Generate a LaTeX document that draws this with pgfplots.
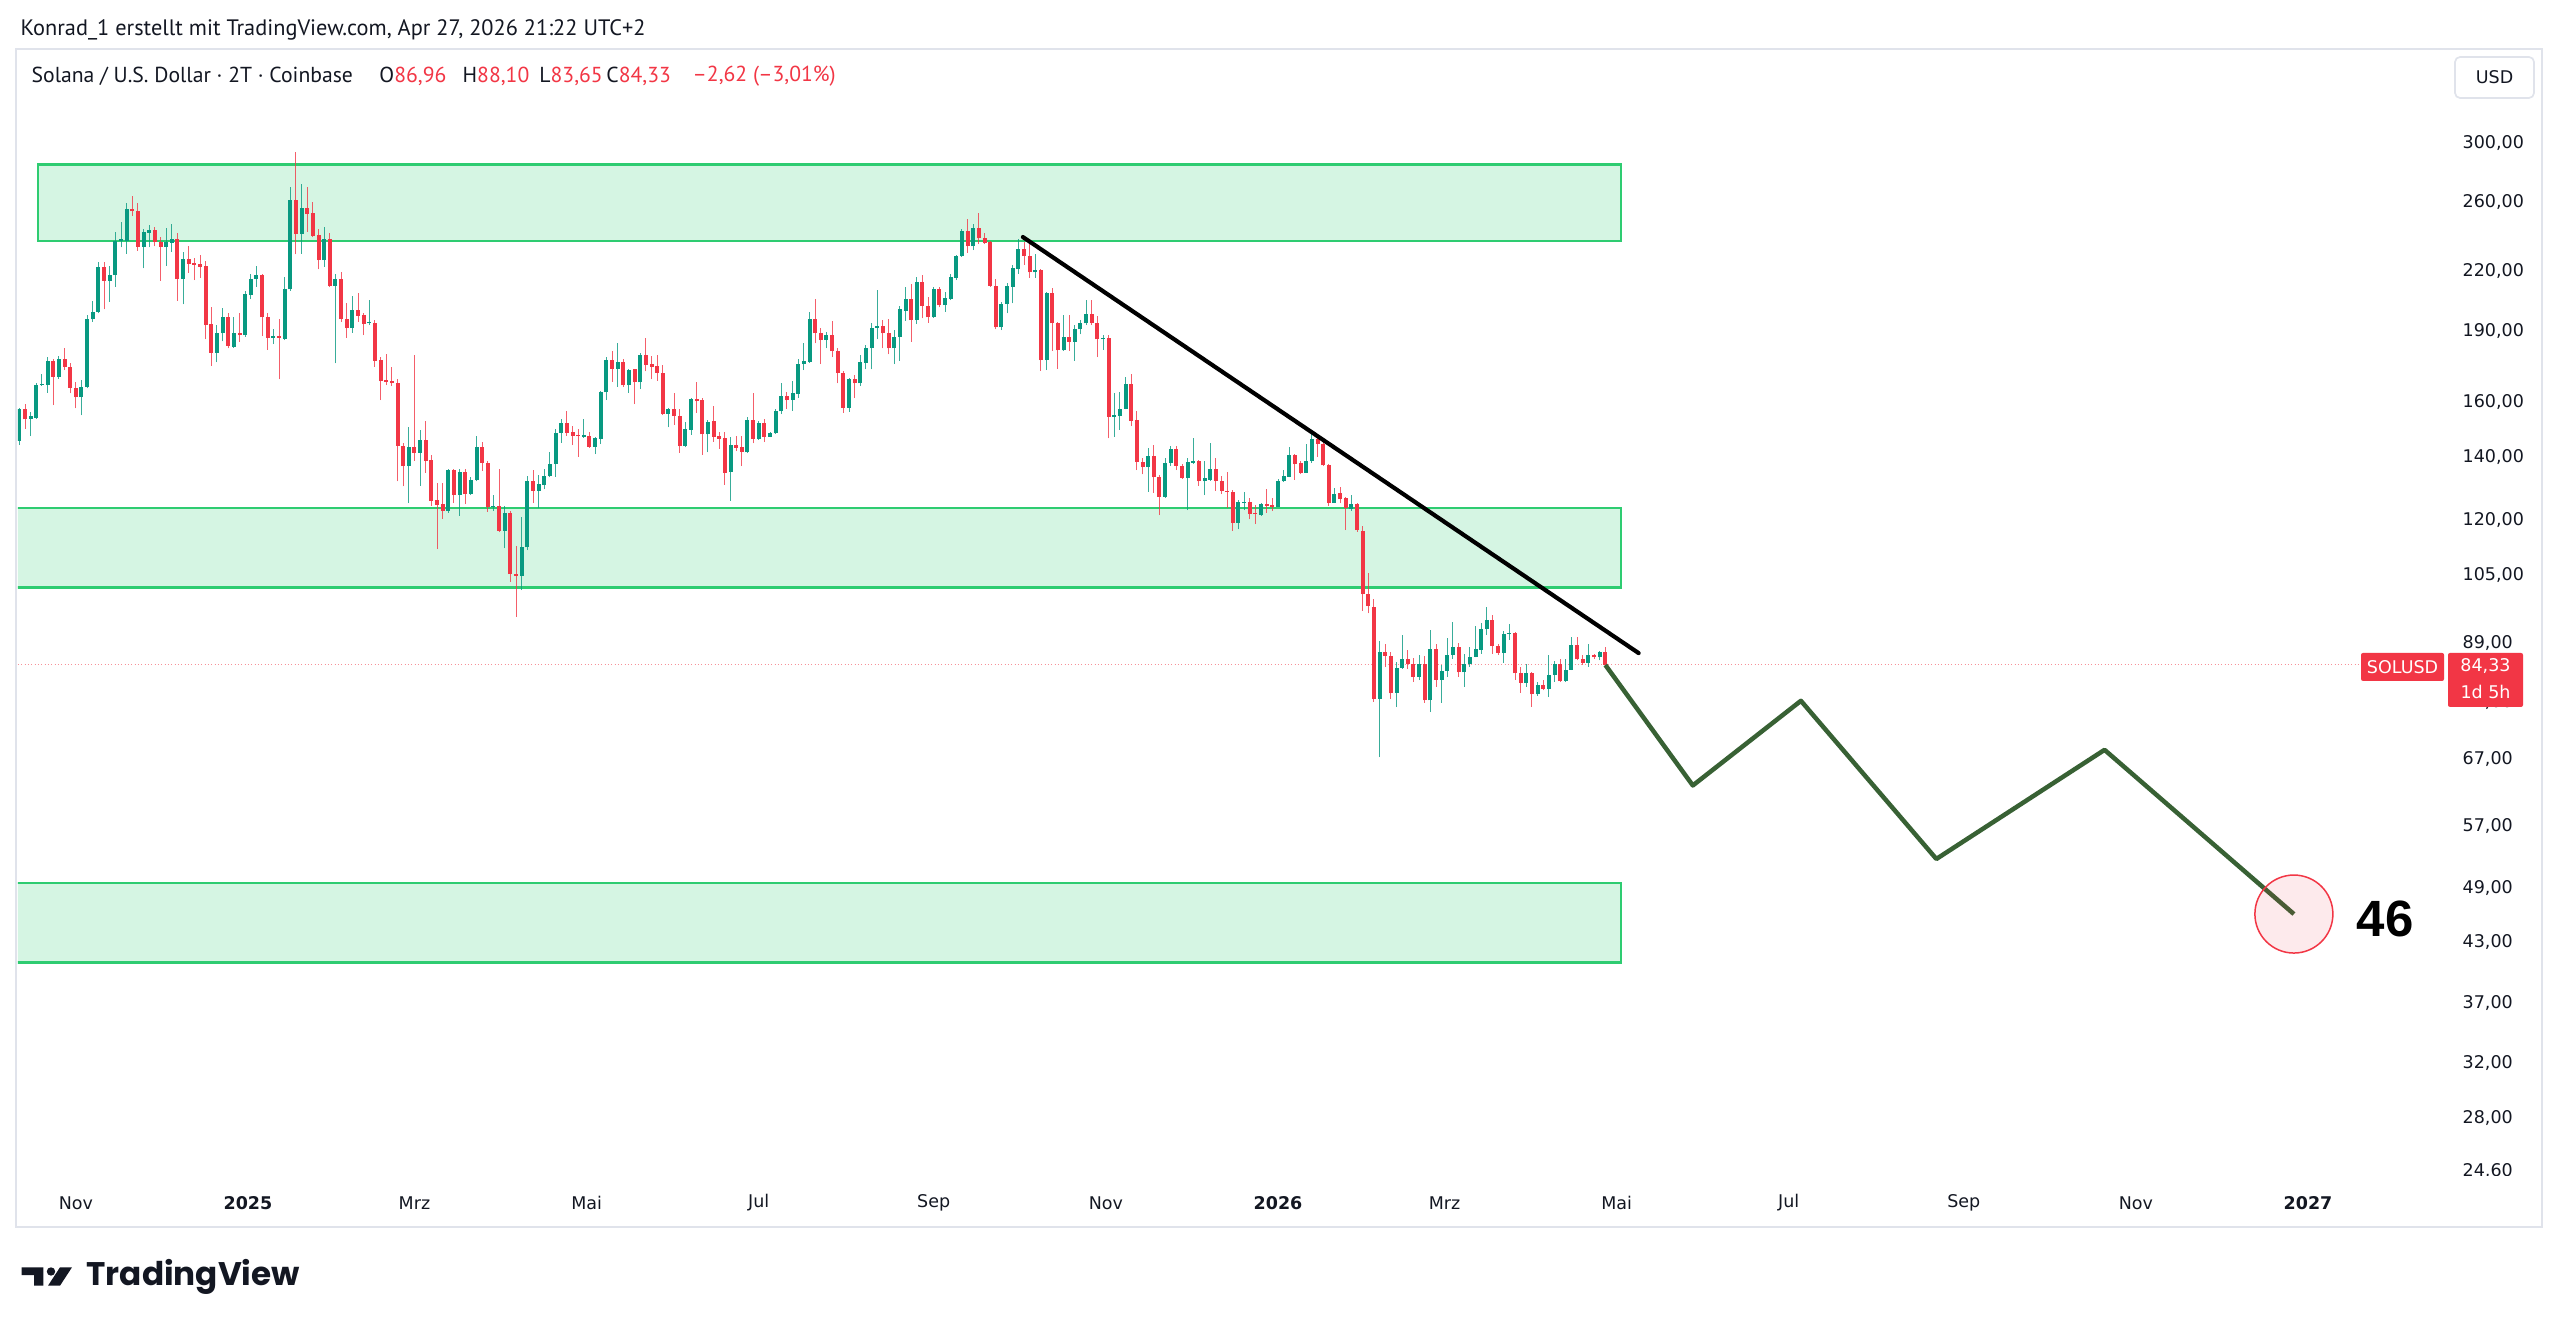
\documentclass[border=0pt]{standalone}
\usepackage{pgfplots}
\pgfplotsset{compat=1.18}
\usepackage{pgfplotstable}
\usetikzlibrary{calc,backgrounds}
\usepackage{fontspec}
\setmainfont{PT Sans}
\newfontfamily\numfont{DejaVu Sans}
\newfontfamily\bignum{Liberation Sans}
\newfontfamily\logofont{Poppins}

\definecolor{tvgreen}{RGB}{8,153,129}
\definecolor{tvred}{RGB}{242,54,69}
\definecolor{tvtext}{RGB}{19,23,34}
\definecolor{zoneedge}{RGB}{46,204,113}
\definecolor{zonefill}{RGB}{213,245,227}
\definecolor{pathgreen}{RGB}{56,97,52}
\definecolor{paneedge}{RGB}{224,227,235}

% SOL/USD, 2-day candles; d = days since 2025-01-01
\pgfplotstableread{
d o h l c
-83 138.2 147.0 137.9 145.8
-81 145.5 157.7 144.0 157.1
-79 157.1 159.0 149.9 153.3
-77 153.5 156.1 147.2 154.5
-75 154.0 167.6 153.6 166.6
-73 166.6 171.0 166.3 166.9
-71 166.6 178.4 163.5 176.8
-69 176.8 177.7 158.7 170.0
-67 170.0 178.8 169.3 177.7
-65 177.7 182.6 172.8 174.2
-63 174.2 175.7 163.3 165.5
-61 165.5 168.0 157.5 161.7
-59 161.7 168.7 154.8 166.0
-57 165.8 197.6 165.3 195.6
-55 195.6 204.3 194.4 199.2
-53 199.2 224.6 198.4 222.1
-51 222.1 224.6 200.3 214.7
-49 214.7 222.6 204.1 217.9
-47 217.7 241.8 211.6 236.5
-45 236.7 248.0 232.9 237.5
-43 236.5 259.7 229.5 255.7
-41 255.7 264.1 251.4 254.5
-39 254.5 259.3 231.0 233.2
-37 233.2 243.4 221.3 241.6
-35 241.4 246.0 232.9 242.8
-33 242.8 245.0 233.6 236.1
-31 236.1 239.0 214.7 233.2
-29 233.2 244.3 222.8 235.8
-27 235.5 246.4 230.4 237.7
-25 237.7 241.1 204.6 215.7
-23 215.7 230.1 202.8 226.7
-21 226.7 234.0 219.0 223.7
-19 224.1 227.3 215.1 223.3
-17 223.7 228.6 216.5 222.2
-15 222.6 225.5 186.2 192.8
-13 193.3 201.6 174.6 180.4
-11 180.4 192.8 176.1 189.2
-9 189.0 201.1 185.4 196.7
-7 196.7 198.7 182.2 183.3
-5 182.9 196.7 182.5 189.0
-3 189.2 198.4 185.1 188.2
-1 188.2 209.6 187.4 208.0
1 207.4 218.6 205.4 215.8
3 215.8 222.6 211.6 217.9
5 217.9 218.6 187.7 196.5
7 196.5 198.4 181.7 186.9
9 186.9 190.8 184.1 187.7
11 187.7 195.5 169.0 186.9
13 186.6 216.8 185.9 210.4
15 210.3 270.0 209.6 261.4
17 261.4 294.0 229.0 240.6
19 240.6 271.7 229.5 256.5
21 256.5 270.0 242.0 252.6
23 253.1 260.3 238.7 239.6
25 240.0 243.4 220.8 225.9
27 225.9 244.6 222.2 237.7
29 237.7 241.1 211.5 212.1
31 212.1 218.6 175.7 215.8
33 215.8 219.5 194.4 195.5
35 195.5 203.6 187.1 191.4
37 191.4 206.9 189.2 199.9
39 199.9 208.6 194.4 197.2
41 197.6 198.4 188.2 193.3
43 193.7 204.9 192.8 194.4
45 193.9 195.2 174.2 176.8
47 177.1 178.4 160.7 168.3
49 168.7 179.9 166.6 168.0
51 168.4 174.2 166.2 167.3
53 167.6 169.3 131.8 143.7
55 143.8 144.6 130.2 136.8
57 136.8 150.5 125.0 143.2
59 143.2 179.5 138.6 141.4
61 141.4 149.4 130.5 145.8
63 145.8 152.6 134.6 138.6
65 138.8 140.6 124.2 125.8
67 126.0 131.2 111.8 124.5
69 124.8 131.2 120.4 122.7
71 122.7 136.0 122.2 135.5
73 135.5 136.0 125.0 127.5
75 127.5 136.0 121.2 134.9
77 134.9 136.0 124.7 127.8
79 127.8 133.3 127.5 132.3
81 132.3 147.2 131.8 143.2
83 143.2 145.2 135.3 137.9
85 137.9 138.6 122.4 124.0
87 124.0 127.5 122.6 124.2
89 124.2 135.7 116.5 116.9
91 116.9 124.2 112.0 122.1
93 122.1 122.6 103.3 105.2
95 105.3 112.6 94.8 104.7
97 104.7 120.9 101.2 112.3
99 112.3 133.5 111.5 131.8
101 131.8 135.5 125.0 128.8
103 128.8 133.9 123.5 131.0
105 130.7 135.7 129.3 133.5
107 133.5 141.7 133.1 137.5
109 137.5 149.9 133.3 148.4
111 148.4 153.6 144.8 152.1
113 152.1 156.5 147.3 148.4
115 148.8 150.8 144.0 147.3
117 147.5 149.9 140.0 147.2
119 147.0 153.6 146.6 147.5
121 147.3 148.8 143.0 143.4
123 143.4 147.0 140.9 146.5
125 146.3 164.2 144.3 163.7
127 163.7 178.4 160.7 177.3
129 177.3 181.1 168.0 173.5
131 173.5 184.4 166.0 176.2
133 176.2 177.7 166.0 166.5
135 166.5 173.2 163.5 172.8
137 173.1 173.5 159.1 167.8
139 167.8 180.4 165.0 179.1
141 179.1 187.1 172.3 175.0
143 175.4 178.8 169.0 174.2
145 174.7 179.2 168.4 171.7
147 171.8 175.0 154.9 155.4
149 155.4 157.6 150.3 157.3
151 157.2 163.3 151.3 154.5
153 154.6 157.4 141.4 143.6
155 143.6 152.4 143.2 149.9
157 149.4 161.3 147.6 160.9
159 160.9 168.0 155.8 160.3
161 160.7 161.3 140.6 147.8
163 147.8 153.0 141.5 152.5
165 152.6 158.4 145.1 147.0
167 147.2 148.8 142.7 146.3
169 146.5 148.8 130.8 134.6
171 134.9 146.7 125.8 144.0
173 144.0 147.3 141.9 143.1
175 143.2 147.3 136.8 141.6
177 141.5 154.1 141.2 152.9
179 152.9 163.3 144.6 146.3
181 146.3 152.7 145.8 151.9
183 151.9 153.3 145.0 147.0
185 147.0 148.8 146.7 148.4
187 148.2 157.4 148.0 156.4
189 156.3 167.6 155.3 162.2
191 162.2 163.7 157.3 160.7
193 160.7 168.4 156.5 163.3
195 163.0 177.7 161.4 175.4
197 175.4 184.4 172.8 176.5
199 176.4 198.9 176.0 195.5
201 195.5 205.7 184.4 189.0
203 189.2 191.4 175.4 185.9
205 185.9 189.7 182.2 188.2
207 188.2 194.7 178.4 181.0
209 181.0 182.2 167.3 171.7
211 171.7 172.4 155.8 157.8
213 157.8 169.6 156.1 169.1
215 169.1 170.7 161.4 167.3
217 167.3 179.2 166.2 176.1
219 175.9 183.6 173.1 182.2
221 182.2 193.6 173.2 191.4
223 191.4 210.0 186.2 192.4
225 192.4 195.2 182.2 189.0
227 189.0 195.7 179.6 182.2
229 182.2 190.5 175.4 187.4
231 187.4 202.0 176.8 200.4
233 199.7 211.6 194.9 205.4
235 205.4 213.0 185.1 195.2
237 195.2 216.6 193.3 213.9
239 213.9 217.7 196.0 202.0
241 202.0 206.6 193.9 196.5
243 196.5 211.6 196.3 210.3
245 210.3 211.6 201.3 202.4
247 202.4 209.2 199.2 206.0
249 205.7 218.6 204.9 216.6
251 216.4 228.6 215.1 228.2
253 228.0 243.9 227.6 242.4
255 242.4 249.5 229.9 233.6
257 233.6 246.4 231.4 244.3
259 244.3 253.1 234.8 238.1
261 238.1 241.1 234.8 235.2
263 236.1 236.8 211.6 212.1
265 212.1 215.6 190.8 191.8
267 191.8 204.1 190.5 202.9
269 202.9 213.6 198.4 212.0
271 211.6 223.2 203.3 221.3
273 221.0 237.5 218.6 232.3
275 232.3 236.1 223.2 228.0
277 228.2 237.1 216.5 219.2
279 219.2 229.2 216.5 220.4
281 220.4 221.0 172.5 177.1
283 177.1 209.2 172.8 208.3
285 208.3 211.2 181.1 193.6
287 193.6 194.4 173.5 181.4
289 181.4 197.6 181.1 187.4
291 187.4 197.6 181.1 185.1
293 185.1 192.8 176.8 190.8
295 190.8 195.2 188.6 193.6
297 193.6 204.9 192.8 197.9
299 197.9 204.9 192.8 193.6
301 193.6 197.1 178.4 186.3
303 186.3 188.2 181.7 186.9
305 186.9 188.2 146.4 154.2
307 154.2 163.3 147.0 154.9
309 154.5 164.0 149.4 157.4
311 157.4 170.0 157.1 166.9
313 166.9 171.4 150.8 152.7
315 153.0 156.5 135.5 138.2
317 138.2 139.4 134.1 136.5
319 136.5 142.9 128.6 140.2
321 140.2 144.0 128.3 133.1
323 133.1 133.9 121.4 127.0
325 127.0 139.4 126.6 137.9
327 137.9 143.8 136.8 142.5
329 142.5 143.8 135.5 136.9
331 136.8 137.5 132.6 132.9
333 132.9 139.7 122.9 138.2
335 138.0 146.4 137.5 138.6
337 138.6 139.0 130.5 131.8
339 131.8 138.6 127.5 132.8
341 132.3 144.6 132.1 135.7
343 135.7 139.7 128.9 131.8
345 131.8 133.6 127.8 128.9
347 128.9 134.9 123.5 128.7
349 128.6 129.1 116.9 119.2
351 119.2 126.0 117.3 125.3
353 125.0 128.4 122.9 125.3
355 125.3 126.5 120.2 121.7
357 122.1 124.5 118.8 121.7
359 121.4 125.0 121.2 124.7
361 124.7 129.4 122.1 124.3
363 124.5 126.7 122.7 123.8
365 124.0 132.5 123.8 131.8
367 131.8 135.5 131.6 133.6
369 133.3 143.2 133.1 140.6
371 140.6 140.9 132.3 137.5
373 137.7 138.5 134.2 134.7
375 134.7 144.4 134.5 138.6
377 138.5 148.6 137.9 146.1
379 146.1 146.8 140.0 144.4
381 144.4 145.2 136.8 137.1
383 137.1 137.5 124.2 125.2
385 125.2 129.6 125.0 127.8
387 128.0 129.9 125.0 126.2
389 126.5 126.8 117.1 123.5
391 123.2 127.5 122.7 124.7
393 124.7 125.0 116.6 117.1
395 116.9 118.3 96.2 100.2
397 100.2 105.5 95.6 97.3
399 97.1 98.9 77.1 77.7
401 77.7 89.4 67.4 87.0
403 87.0 88.7 83.9 86.2
405 86.2 87.0 77.7 78.7
407 78.8 85.0 76.1 83.8
409 83.8 90.8 83.6 85.6
411 85.6 87.4 83.6 84.6
413 84.6 85.8 81.0 81.9
415 81.9 86.3 81.3 84.6
417 84.6 86.1 76.9 77.4
419 77.4 91.8 75.2 87.6
421 87.6 88.7 80.0 81.4
423 81.4 84.3 76.9 83.2
425 83.2 90.0 81.9 86.5
427 86.5 93.6 85.6 88.2
429 88.2 89.0 81.9 82.8
431 82.8 86.7 80.0 84.5
433 84.5 88.2 84.0 86.0
435 86.0 92.7 85.9 87.6
437 87.5 93.4 86.7 92.0
439 92.0 97.1 90.8 94.0
441 94.0 95.2 86.7 88.3
443 88.3 88.7 86.5 86.9
445 86.9 91.6 84.8 90.9
447 90.9 93.1 89.7 91.2
449 91.2 91.4 81.4 82.6
451 82.6 84.0 78.8 80.8
453 80.8 84.6 80.0 82.6
455 82.6 83.0 76.2 78.5
457 78.5 80.9 78.3 80.4
459 80.4 81.3 79.3 79.6
461 79.6 86.3 78.0 82.3
463 82.3 85.2 81.0 84.5
465 84.5 85.6 81.0 81.1
467 81.1 85.6 80.9 83.4
469 83.4 90.2 83.3 88.6
471 88.6 90.3 85.3 85.5
473 85.6 86.5 84.3 84.8
475 84.8 88.8 84.0 86.5
477 86.5 86.7 85.6 85.9
479 85.9 87.2 85.3 86.96
481 86.96 88.10 83.65 84.33
}\candles

% price zones: x from/to (days), lower and upper price
\pgfplotstableread{
d p
-74.4 236.7
486.5 236.7
486.5 285.1
-74.4 285.1
}\zoneA
\pgfplotstableread{
d p
-100 101.8
486.5 101.8
486.5 123.6
-100 123.6
}\zoneB
\pgfplotstableread{
d p
-100 40.9
486.5 40.9
486.5 49.6
-100 49.6
}\zoneC
\pgfplotstableread{
d p
274.6 238.9
492.8 86.8
}\trend
\pgfplotstableread{
d p
481 84.33
512 62.9
550.3 77.3
598.3 52.6
657.9 68.6
725 46
}\projection
\pgfplotstableread{
d p
-81.5 84.33
760 84.33
}\lastline
\pgfplotstableread{
d p
725 46
}\target

\begin{document}
\begin{tikzpicture}[x=0.3pt,y=0.3pt]

% price axis is logarithmic: y holds ln(price)
\begin{axis}[
  scale only axis, width=728.4pt, height=338.7pt,
  xmin=-81.5, xmax=778.9,
  ymin=3.18387, ymax=5.93117,
  axis line style={draw=none},
  major tick length=0pt, minor tick num=0,
  xtick={-61,0,59,120,181,243,304,365,424,485,546,608,669,730},
  xticklabels={Nov,\textbf{2025},Mrz,Mai,Jul,Sep,Nov,\textbf{2026},Mrz,Mai,Jul,Sep,Nov,\textbf{2027}},
  xticklabel style={font=\numfont\fontsize{5.25}{6}\selectfont, text=tvtext, anchor=center, yshift=-7.2pt, inner sep=0pt},
  ytick={3.202746,3.332205,3.465736,3.610918,3.761200,3.891820,4.043051,4.204693,4.343805,4.488636,4.653960,4.787492,4.941642,5.075174,5.247024,5.393628,5.560682,5.703782},
  yticklabels={{24,60},{28,00},{32,00},{37,00},{43,00},{49,00},{57,00},{67,00},{77,00},{89,00},{105,00},{120,00},{140,00},{160,00},{190,00},{220,00},{260,00},{300,00}},
  yticklabel pos=right,
  yticklabel style={font=\numfont\fontsize{5.25}{6}\selectfont, text=tvtext, anchor=west, xshift=4.8pt, inner sep=0pt},
  clip=true,
]

% support / resistance zones
\addplot[fill=zonefill, draw=zoneedge, line width=0.75pt, forget plot]
  table[x=d, y expr=ln(\thisrow{p})] {\zoneA} -- cycle;
\addplot[fill=zonefill, draw=zoneedge, line width=0.75pt, forget plot]
  table[x=d, y expr=ln(\thisrow{p})] {\zoneB} -- cycle;
\addplot[fill=zonefill, draw=zoneedge, line width=0.75pt, forget plot]
  table[x=d, y expr=ln(\thisrow{p})] {\zoneC} -- cycle;

% last price line
\addplot[tvred, opacity=0.55, line width=0.3pt, dash pattern=on 0.3pt off 0.7pt, forget plot]
  table[x=d, y expr=ln(\thisrow{p})] {\lastline};

% wicks
\addplot[draw=none, mark=none, forget plot,
  restrict expr to domain={\thisrow{c}-\thisrow{o}}{0:1000},
  error bars/.cd, y dir=plus, y explicit, error mark=none,
  error bar style={line width=0.3pt, draw=tvgreen, draw opacity=0.8, solid}]
  table[x=d, y expr=ln(\thisrow{l}), y error plus expr=ln(\thisrow{h})-ln(\thisrow{l})] {\candles};
\addplot[draw=none, mark=none, forget plot,
  restrict expr to domain={\thisrow{o}-\thisrow{c}}{0.000001:1000},
  error bars/.cd, y dir=plus, y explicit, error mark=none,
  error bar style={line width=0.3pt, draw=tvred, draw opacity=0.8, solid}]
  table[x=d, y expr=ln(\thisrow{l}), y error plus expr=ln(\thisrow{h})-ln(\thisrow{l})] {\candles};

% bodies
\addplot[draw=none, mark=none, forget plot,
  restrict expr to domain={\thisrow{c}-\thisrow{o}}{0:1000},
  error bars/.cd, y dir=plus, y explicit, error mark=none,
  error bar style={line width=1.2pt, draw=tvgreen, solid}]
  table[x=d, y expr=ln(\thisrow{o}), y error plus expr=ln(\thisrow{c})-ln(\thisrow{o})] {\candles};
\addplot[draw=none, mark=none, forget plot,
  restrict expr to domain={\thisrow{o}-\thisrow{c}}{0.000001:1000},
  error bars/.cd, y dir=plus, y explicit, error mark=none,
  error bar style={line width=1.2pt, draw=tvred, solid}]
  table[x=d, y expr=ln(\thisrow{c}), y error plus expr=ln(\thisrow{o})-ln(\thisrow{c})] {\candles};

% descending trendline
\addplot[black, line width=1.25pt, line cap=round, forget plot]
  table[x=d, y expr=ln(\thisrow{p})] {\trend};

% projected path
\addplot[pathgreen, line width=1.35pt, line join=round, forget plot]
  table[x=d, y expr=ln(\thisrow{p})] {\projection};

% target marker
\addplot[only marks, mark=*, mark size=11.7pt, forget plot,
  mark options={draw=tvred, line width=0.45pt, fill=tvred, fill opacity=0.1}]
  table[x=d, y expr=ln(\thisrow{p})] {\target};

\coordinate (sw) at (rel axis cs:0,0);
\coordinate (tgt) at (axis cs:747,3.828641);
\coordinate (solusd) at (axis cs:763.5,4.434738);
\coordinate (lastval) at (axis cs:792.9,4.434738);
\end{axis}

% page layout in screen pixels, with the plot area's lower left corner at (18,155)
\begin{scope}[shift={($(sw)+(-18,-155)$)}]
  \begin{scope}[on background layer]
    \fill[white] (0,0) rectangle (2560,1334);
  \end{scope}

  % hide the clipped lower part of the bottom price label
  \fill[white] (2448,130) rectangle (2540,158);

  % chart pane frame
  \draw[paneedge, line width=0.6pt] (16,107) rectangle (2542,1285);

  % header lines
  \node[anchor=west, inner sep=0, text=tvtext, font=\fontsize{6.7}{8}\selectfont] at (20,1304)
    {Konrad\_1 erstellt mit TradingView.com, Apr 27, 2026 21:22 UTC+2};
  \begin{scope}[every node/.style={anchor=west, inner sep=0, text=tvtext, font=\fontsize{6.5}{8}\selectfont}]
    \node at (31,1258) {Solana / U.S. Dollar · 2T · Coinbase};
    \node at (378.8,1258) {O\textcolor{tvred}{86,96}};
    \node at (462,1258) {H\textcolor{tvred}{88,10}};
    \node at (538.8,1258) {L\textcolor{tvred}{83,65}};
    \node at (605.8,1258) {C\textcolor{tvred}{84,33}};
    \node at (692,1258) {\textcolor{tvred}{–2,62 (–3,01\%)}};
  \end{scope}

  % currency button
  \draw[paneedge, fill=white, line width=0.5pt, rounded corners=1.5pt] (2455,1236) rectangle (2534,1277);
  \node[inner sep=0, text=tvtext, font=\numfont\fontsize{5.25}{6}\selectfont] at (2494.5,1256.5) {USD};

  % footer logo
  \fill[tvtext] (21.7,66.7) -- (43.3,66.7) -- (43.3,48.3) -- (34,48.3) -- (34,59) -- (21.7,59) -- cycle;
  \fill[tvtext] (51,62.5) circle (4.2);
  \fill[tvtext] (60,66.7) -- (72,66.7) -- (60,48.3) -- (48,48.3) -- cycle;
  \node[anchor=west, inner sep=0, text=tvtext, font=\logofont\bfseries\fontsize{9.8}{11}\selectfont] at (86,57.5) {TradingView};

  \pgfresetboundingbox
  \path[use as bounding box] (0,0) rectangle (2560,1334);
\end{scope}

% target text
\node[anchor=west, inner sep=0, text=black, font=\bignum\bfseries\fontsize{15.3}{17}\selectfont] at ($(tgt)+(0,-5)$) {46};

% last price tags
\fill[tvred, rounded corners=0.6pt] ($(solusd)+(-41.5,12)$) rectangle ($(solusd)+(41.5,-16)$);
\node[inner sep=0, text=white, font=\numfont\fontsize{5.25}{6}\selectfont] at ($(solusd)+(0,-2)$) {SOLUSD};
\fill[tvred, rounded corners=0.6pt] ($(lastval)+(-37.5,12)$) rectangle ($(lastval)+(37.5,-42)$);
\node[inner sep=0, text=white, font=\numfont\fontsize{5.25}{6}\selectfont] at ($(lastval)+(0,-1)$) {84,33};
\node[inner sep=0, text=white, font=\numfont\fontsize{5.25}{6}\selectfont] at ($(lastval)+(0,-27)$) {1d 5h};
\end{tikzpicture}
\end{document}
